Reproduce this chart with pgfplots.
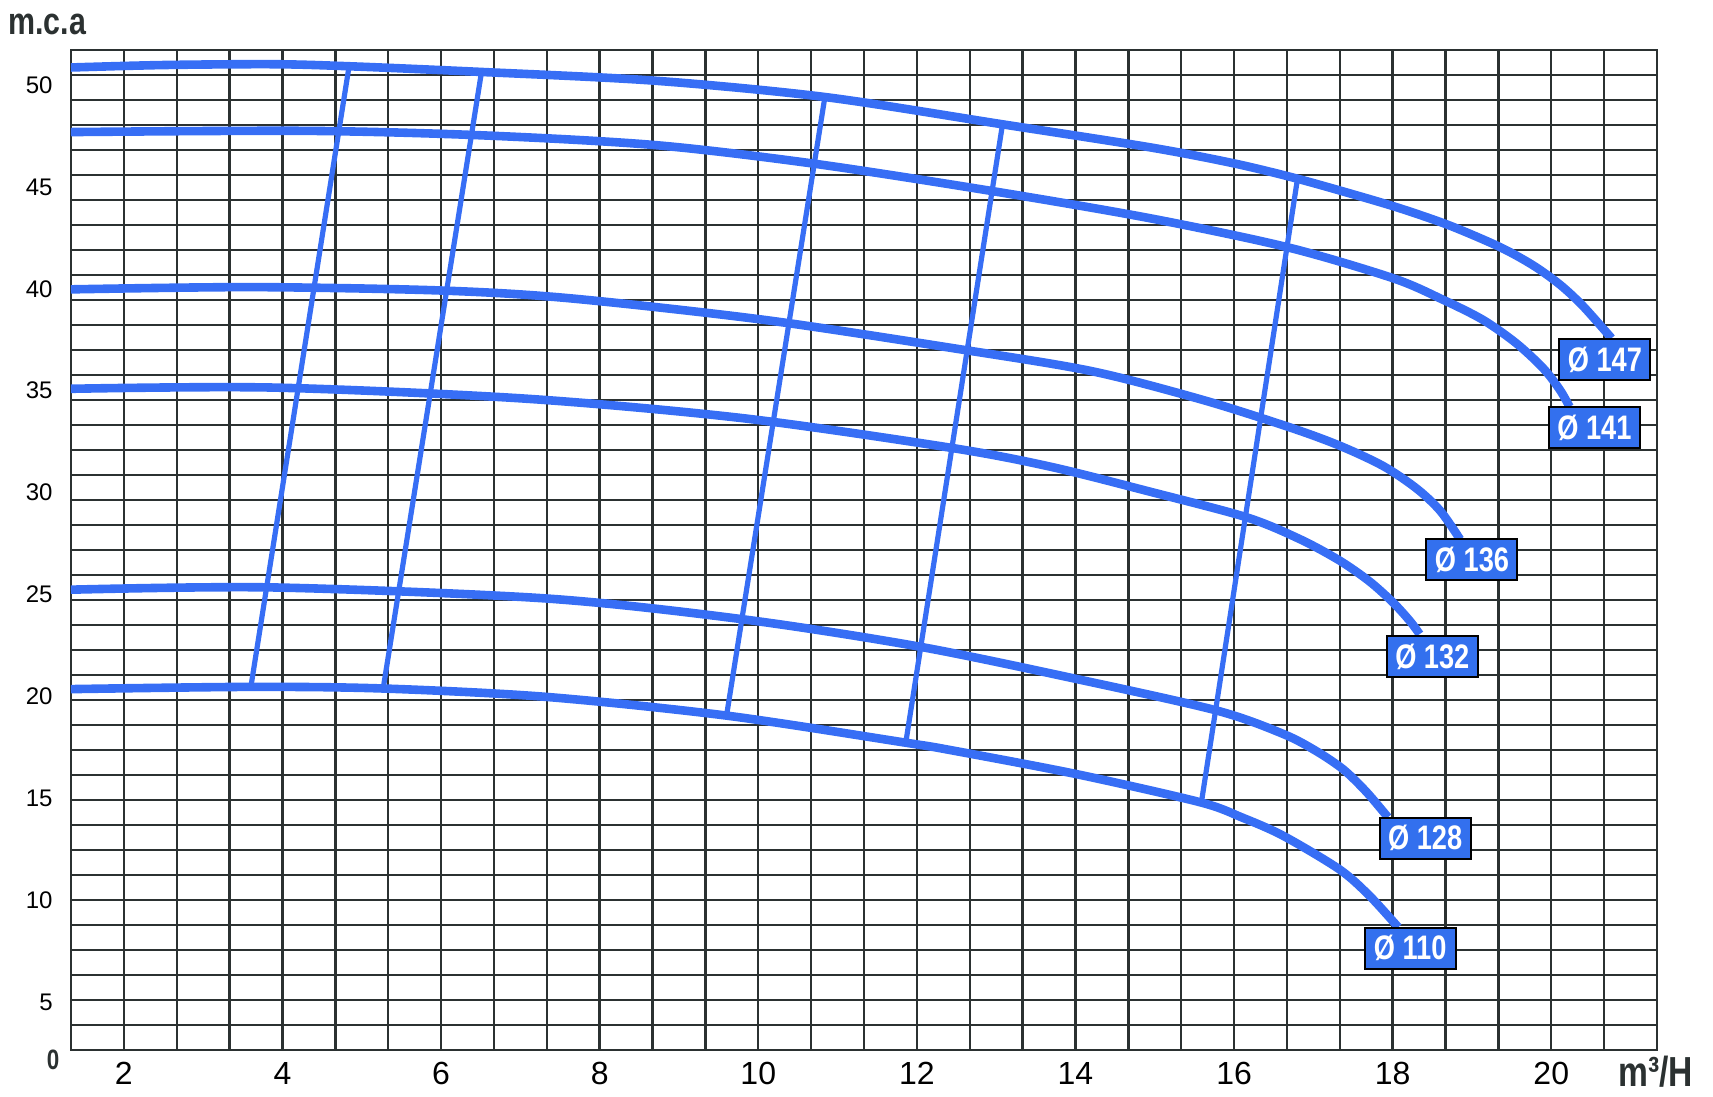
\documentclass[border=0pt]{standalone}
\usepackage{pgfplots}
\pgfplotsset{compat=1.18}
\usepackage{fontspec}
\setmainfont{Liberation Sans}
\newfontfamily\condfont[FakeStretch=0.8]{Liberation Sans}
\definecolor{curveblue}{HTML}{376EF5}
\definecolor{boxblue}{HTML}{3370EE}
\definecolor{gridc}{HTML}{2B3131}
\begin{document}
\begin{tikzpicture}
\path[use as bounding box] (-35.5pt,-23.5pt) rectangle (821pt,525pt);
\begin{axis}[
  at={(0pt,0pt)}, anchor=south west,
  scale only axis, width=793pt, height=500pt,
  xmin=1.333333, xmax=21.333333, ymin=2.638, ymax=51.718,
  axis line style={draw=gridc, line width=1.2pt},
  xtick={2,4,...,20}, ytick={5,10,...,50},
  minor xtick={1.33333,2,2.66667,3.33333,4,4.66667,5.33333,6,6.66667,7.33333,8,8.66667,9.33333,10,10.66667,11.33333,12,12.66667,13.33333,14,14.66667,15.33333,16,16.66667,17.33333,18,18.66667,19.33333,20,20.66667,21.33333},
  minor ytick={2.638,3.865,5.092,6.319,7.546,8.773,10,11.227,12.454,13.681,14.908,16.135,17.362,18.589,19.816,21.043,22.27,23.497,24.724,25.951,27.178,28.405,29.632,30.859,32.086,33.313,34.54,35.767,36.994,38.221,39.448,40.675,41.902,43.129,44.356,45.583,46.81,48.037,49.264,50.491,51.718},
  major tick length=0pt, minor tick length=0pt,
  grid=minor,
  minor grid style={draw=gridc, line width=1.2pt},
  /pgf/number format/assume math mode=true,
  xticklabel style={anchor=north, inner sep=0pt, yshift=-6pt, font=\fontsize{16}{16}\selectfont, text=black},
  yticklabel style={anchor=east, inner sep=0pt, xshift=-9pt, font=\fontsize{12}{12}\selectfont, text=black},
  every axis plot/.append style={curveblue, line cap=butt, line join=round},
]
% transverse lines
\addplot[line width=2.6pt] coordinates {(4.84,50.92) (3.60,20.42)};
\addplot[line width=2.6pt] coordinates {(6.51,50.64) (5.27,20.38)};
\addplot[line width=2.6pt] coordinates {(10.84,49.41) (9.60,19.05)};
\addplot[line width=2.6pt] coordinates {(13.08,48.07) (11.86,17.72)};
\addplot[line width=2.6pt] coordinates {(16.80,45.40) (15.59,14.84)};
% curves
\addplot[line width=4.3pt, smooth] coordinates {(1.333,50.86) (2.5,50.98) (3.88,51.02) (4.84,50.92) (6.51,50.64) (8.70,50.21) (10.84,49.41) (13.08,48.07) (14.94,46.94) (15.99,46.16) (16.75,45.45) (17.46,44.68) (18.09,43.95) (18.72,43.10) (19.35,42.05) (19.77,41.15) (20.11,40.20) (20.40,39.15) (20.76,37.57)};
\addplot[line width=4.3pt, smooth] coordinates {(1.333,47.69) (4.29,47.75) (6.51,47.53) (8.70,47.05) (10.70,46.14) (12.94,44.80) (14.94,43.46) (16.68,42.03) (18.01,40.51) (18.64,39.45) (19.14,38.47) (19.56,37.32) (19.90,36.09) (20.11,35.03) (20.23,34.21)};
\addplot[line width=4.3pt, smooth] coordinates {(1.333,39.97) (3.61,40.08) (5.95,39.92) (7.60,39.54) (10.08,38.47) (12.56,37.02) (14.21,35.95) (15.6,34.55) (16.70,33.20) (17.33,32.30) (17.88,31.30) (18.30,30.20) (18.60,29.10) (18.85,27.70)};
\addplot[line width=4.3pt, smooth] coordinates {(1.333,35.09) (3.88,35.15) (7.05,34.61) (9.80,33.65) (12.42,32.20) (13.68,31.27) (14.94,30.04) (16.16,28.78) (16.83,27.71) (17.33,26.66) (17.71,25.63) (18.01,24.58) (18.22,23.68) (18.34,23.05)};
\addplot[line width=4.3pt, smooth] coordinates {(1.333,25.23) (3.88,25.34) (7.32,24.80) (9.80,23.78) (12.01,22.45) (14.01,20.85) (15.78,19.30) (16.62,18.15) (17.04,17.30) (17.38,16.40) (17.67,15.30) (17.94,14.06)};
\addplot[line width=4.3pt, smooth] coordinates {(1.333,20.35) (3.61,20.46) (5.27,20.38) (7.32,19.97) (9.60,19.05) (11.86,17.72) (12.42,17.36) (14.01,16.18) (15.57,14.80) (16.1,14.05) (16.62,13.15) (17.33,11.50) (17.71,10.20) (18.07,8.66)};
% labels
\tikzset{dlabel/.style={fill=boxblue, draw=black, line width=1pt, minimum width=45.5pt, minimum height=20.5pt, inner sep=0pt, text=white, font=\condfont\bfseries\fontsize{17}{17}\selectfont}}
\node[dlabel] at (axis cs:20.676,36.53) {Ø 147};
\node[dlabel] at (axis cs:20.544,33.19) {Ø 141};
\node[dlabel] at (axis cs:19.0,26.70) {Ø 136};
\node[dlabel] at (axis cs:18.50,21.95) {Ø 132};
\node[dlabel] at (axis cs:18.41,13.04) {Ø 128};
\node[dlabel] at (axis cs:18.22,7.63) {Ø 110};
\end{axis}
\node[anchor=center, inner sep=0pt, text=gridc, font=\condfont\bfseries\fontsize{14}{14}\selectfont] at (-9pt,-5pt) {0};
\node[anchor=base west, inner sep=0pt, text=gridc, font=\condfont\bfseries\fontsize{19}{19}\selectfont] at (-31.5pt,507.5pt) {m.c.a};
\node[anchor=base west, inner sep=0pt, text=gridc, font=\condfont\bfseries\fontsize{21}{21}\selectfont] at (773.5pt,-18.5pt) {m³/H};
\end{tikzpicture}
\end{document}
